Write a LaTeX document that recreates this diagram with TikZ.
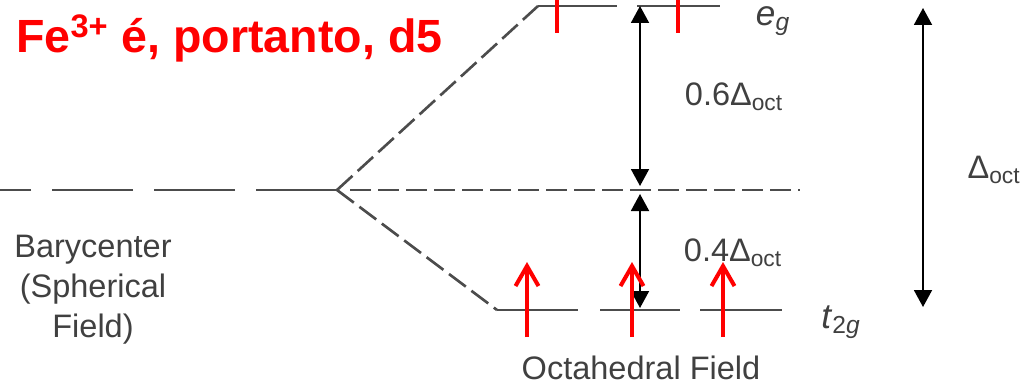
\documentclass[tikz,border=0pt]{standalone}
\usepackage{fontspec}
\setmainfont{Liberation Sans}
\usetikzlibrary{arrows.meta}

\begin{document}
\begin{tikzpicture}[
  level/.style={draw=black!70, line width=1.6pt},
  splitline/.style={draw=black!70, line width=1.5pt, dash pattern=on 0.42cm off 0.14cm},
  gap/.style={{Triangle[width=0.36cm,length=0.34cm]}-{Triangle[width=0.36cm,length=0.34cm]}, line width=1.1pt},
  spin/.style={draw=red, line width=2.3pt},
  lbl/.style={text=black!75, font=\fontsize{18.5}{22.7}\selectfont}
]
  \useasboundingbox (0,0) rectangle (20.58,7.76);
  % levels: barycenter, e_g above, t_2g below
  \coordinate (split) at (6.74,3.96);
  \coordinate (egL) at (10.76,7.64);
  \coordinate (t2L) at (9.94,1.56);
  \draw[level, dash pattern=on 1.62cm off 0.42cm] (split) -- (0,3.96);
  \draw[splitline] (7.00,3.96) -- (16.00,3.96);
  \draw[splitline] (split) -- (egL);
  \draw[splitline] (split) -- (t2L);
  \draw[level] (egL) -- (12.34,7.64) (12.74,7.64) -- (14.40,7.64);
  \draw[level] (t2L) -- (11.56,1.56) (12.00,1.56) -- (13.60,1.56)
        (14.00,1.56) -- (15.64,1.56);
  % splitting arrows
  \coordinate (gtop) at (12.80,7.64);
  \coordinate (gmidA) at (12.80,4.04);
  \coordinate (gmidB) at (12.80,3.88);
  \coordinate (gbot) at (12.80,1.60);
  \draw[gap] (gtop) -- (gmidA);
  \draw[gap] (gmidB) -- (gbot);
  \coordinate (dtop) at (18.46,7.60);
  \coordinate (dbot) at (18.46,1.62);
  \draw[gap] (dtop) -- (dbot);
  % electrons (red)
  \foreach \x in {10.54,12.64,14.46}
    \draw[spin, -{Straight Barb[width=0.46cm,length=0.4cm]}] (\x,1.02) -- (\x,2.52);
  \foreach \x in {11.14,13.56}
    \draw[spin] (\x,7.76) -- (\x,7.10);
  % labels
  \node[red, font=\bfseries\fontsize{26.5}{32}\selectfont, anchor=base west] (ion)
       at (0.2,6.70) {Fe\textsuperscript{3+} é, portanto, d5};
  \node[lbl] (six) at (14.68,5.82) {0.6Δ\textsubscript{oct}};
  \node[lbl] (four) at (14.66,2.70) {0.4Δ\textsubscript{oct}};
  \node[lbl] (doct) at (19.88,4.36) {Δ\textsubscript{oct}};
  \node[lbl, font=\fontsize{20}{22}\selectfont, inner sep=0.5pt] (eg) at (15.46,7.34)
       {\textit{e}\textsubscript{\textit{g}}};
  \node[lbl, font=\fontsize{20}{22}\selectfont] (t2g) at (16.82,1.32)
       {\textit{t}\textsubscript{2\textit{g}}};
  \node[lbl, align=center] (bary) at (1.86,1.96) {Barycenter\\(Spherical\\Field)};
  \node[lbl] (octa) at (12.82,0.40) {Octahedral Field};
\end{tikzpicture}
\end{document}
